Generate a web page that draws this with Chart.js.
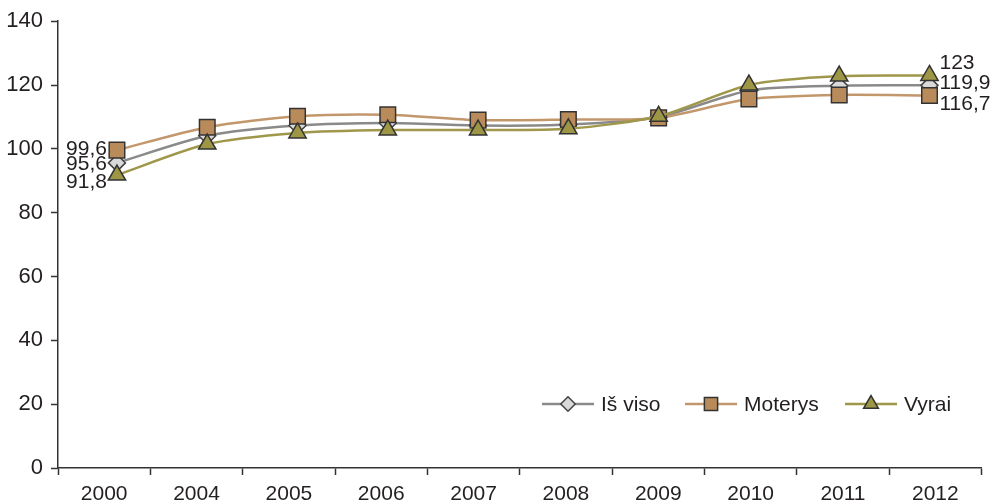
<!DOCTYPE html>
<html>
<head>
<meta charset="utf-8">
<script src="https://cdn.jsdelivr.net/npm/chart.js@4/dist/chart.umd.min.js"></script>
<style>
  html, body { margin: 0; padding: 0; background: #fff; }
  #wrap { position: relative; width: 994px; height: 501px; }
</style>
</head>
<body>
<div id="wrap"><canvas id="myChart" width="994" height="501"></canvas></div>
<script>
// data
const years = ["2000", "2004", "2005", "2006", "2007", "2008", "2009", "2010", "2011", "2012"];
const isViso = [95.6, 104.1, 107.3, 108.1, 107.3, 107.6, 110, 118.3, 119.8, 119.9];
const moterys = [99.6, 106.8, 110.2, 110.7, 109.0, 109.2, 109.7, 115.6, 116.9, 116.7];
const vyrai = [91.8, 101.5, 105.0, 105.9, 105.9, 106.3, 110.2, 120.0, 122.8, 123];
const yTicks = [0, 20, 40, 60, 80, 100, 120, 140];

const textColor = "#231f20";
const font = "'Liberation Sans', Arial, sans-serif";

const toXY = arr => arr.map((v, i) => ({ x: i, y: v }));
const fmt = v => String(v).replace(".", ",");

// end value labels (first and last point)
const endLabels = {
  id: "endLabels",
  afterDatasetsDraw(chart, args, opts) {
    const ctx = chart.ctx;
    ctx.save();
    ctx.font = "21px " + font;
    ctx.fillStyle = textColor;
    ctx.textBaseline = "middle";
    chart.data.datasets.forEach((ds, di) => {
      const meta = chart.getDatasetMeta(di);
      const first = meta.data[0];
      const last = meta.data[meta.data.length - 1];
      ctx.textAlign = "right";
      ctx.fillText(fmt(ds.data[0].y), first.x - 10, first.y + opts.leftDy[di]);
      ctx.textAlign = "left";
      ctx.fillText(fmt(ds.data[ds.data.length - 1].y), last.x + 10, last.y + opts.rightDy[di]);
    });
    ctx.restore();
  }
};

// legend drawn inside the plot, line + marker like the original
const innerLegend = {
  id: "innerLegend",
  afterDraw(chart, args, opts) {
    const ctx = chart.ctx;
    ctx.save();
    chart.data.datasets.forEach((ds, i) => {
      const x0 = opts.x[i];
      const y = opts.y;
      ctx.strokeStyle = ds.borderColor;
      ctx.lineWidth = 2.5;
      ctx.beginPath();
      ctx.moveTo(x0, y);
      ctx.lineTo(x0 + 52, y);
      ctx.stroke();
      ctx.fillStyle = ds.pointBackgroundColor;
      ctx.strokeStyle = ds.pointBorderColor;
      ctx.lineWidth = 1.5;
      Chart.helpers.drawPoint(ctx, {
        pointStyle: ds.pointStyle,
        radius: ds.pointRadius * 0.85,
        rotation: 0,
        borderWidth: 1.5
      }, x0 + 26, y);
      ctx.font = "21px " + font;
      ctx.fillStyle = textColor;
      ctx.textAlign = "left";
      ctx.textBaseline = "middle";
      ctx.fillText(ds.label, x0 + 59, y + 1);
    });
    ctx.restore();
  }
};

const ctx = document.getElementById("myChart").getContext("2d");

new Chart(ctx, {
  type: "line",
  data: {
    datasets: [
      {
        label: "Iš viso",
        data: toXY(isViso),
        borderColor: "#8a8a8a",
        borderWidth: 2.5,
        pointStyle: "rectRot",
        pointRadius: 8.5,
        pointBackgroundColor: "#d9d9d9",
        pointBorderColor: "#444",
        pointBorderWidth: 1.5,
        tension: 0.25,
        order: 2,
        xAxisID: "xp"
      },
      {
        label: "Moterys",
        data: toXY(moterys),
        borderColor: "#c3976c",
        borderWidth: 2.5,
        pointStyle: "rect",
        pointRadius: 11,
        pointBackgroundColor: "#b98b5b",
        pointBorderColor: "#333",
        pointBorderWidth: 1.5,
        tension: 0.25,
        order: 1,
        xAxisID: "xp"
      },
      {
        label: "Vyrai",
        data: toXY(vyrai),
        borderColor: "#9f984b",
        borderWidth: 2.5,
        pointStyle: "triangle",
        pointRadius: 10,
        pointBackgroundColor: "#9d9645",
        pointBorderColor: "#333",
        pointBorderWidth: 1.5,
        tension: 0.25,
        order: 0,
        xAxisID: "xp"
      }
    ]
  },
  options: {
    responsive: false,
    animation: false,
    layout: { padding: { top: 17, right: 12, left: 0, bottom: 0 } },
    plugins: {
      legend: { display: false },
      tooltip: { enabled: false },
      endLabels: { leftDy: [1.5, -1, 7.5], rightDy: [-2, 9, -12] },
      innerLegend: { x: [542, 685, 845], y: 404 }
    },
    scales: {
      x: {
        type: "category",
        labels: years,
        offset: true,
        grid: {
          display: true,
          offset: true,
          drawOnChartArea: false,
          drawTicks: true,
          tickLength: 7,
          tickWidth: 1.5,
          tickColor: "#333"
        },
        border: { display: true, color: "#333", width: 1.5 },
        ticks: { color: textColor, font: { family: font, size: 21 }, padding: 7, maxRotation: 0, autoSkip: false },
        afterFit: s => { s.height = 33; }
      },
      xp: {
        type: "linear",
        display: false,
        min: -0.653,
        max: 9.576
      },
      y: {
        min: 0,
        max: 140,
        afterBuildTicks: s => { s.ticks = yTicks.map(v => ({ value: v })); },
        grid: {
          display: true,
          drawOnChartArea: false,
          drawTicks: true,
          tickLength: 7,
          tickWidth: 1.5,
          tickColor: "#333"
        },
        border: { display: true, color: "#333", width: 1.5 },
        ticks: { color: textColor, font: { family: font, size: 22 }, padding: 8 },
        afterFit: s => { s.width = 58; }
      }
    }
  },
  plugins: [endLabels, innerLegend]
});
</script>
</body>
</html>
